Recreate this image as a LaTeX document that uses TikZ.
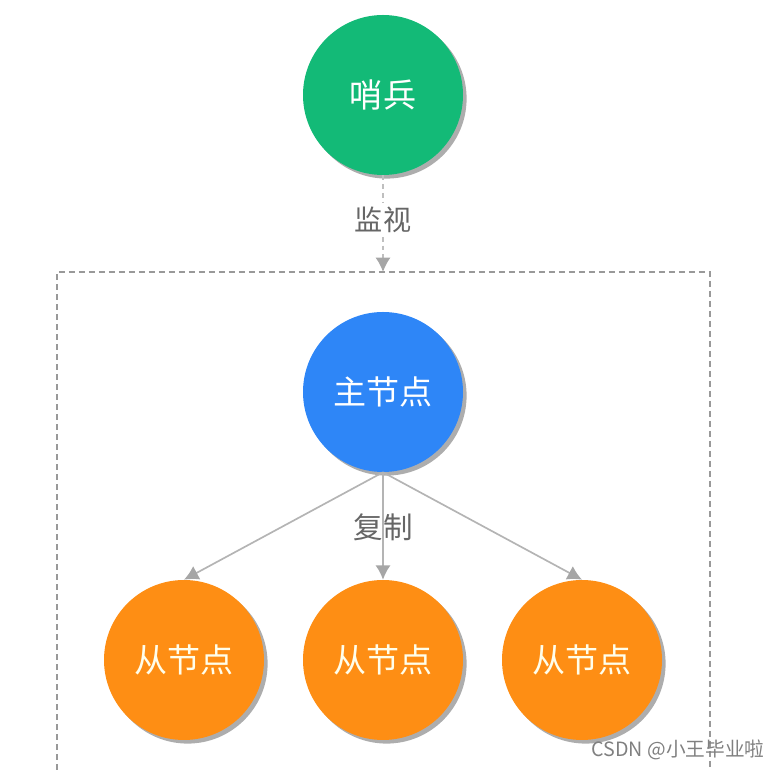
\documentclass[tikz,border=0pt]{standalone}
\usepackage{fontspec}
\newfontfamily\cjk{Noto Sans CJK SC}
\usetikzlibrary{arrows.meta,shadows}

\definecolor{shaogruen}{HTML}{13BA77}
\definecolor{zhublau}{HTML}{2E86F7}
\definecolor{congorange}{HTML}{FE8E14}
\definecolor{liniengrau}{HTML}{B4B4B4}
\definecolor{textgrau}{HTML}{666666}

\begin{document}
\begin{tikzpicture}[
    knoten/.style={circle, minimum size=4cm, inner sep=0pt, font=\cjk\fontsize{23.5}{25}\selectfont,
      drop shadow={shadow xshift=0.09cm, shadow yshift=-0.09cm, fill=black!40, opacity=0.8}},
    spitze/.style={-{Latex[length=0.36cm, width=0.38cm, color=black!35, fill=black!35]}},
    pfeil/.style={draw=liniengrau, line width=1.2pt, spitze},
    beschriftung/.style={text=textgrau, font=\cjk\fontsize{20}{22}\selectfont, inner sep=1pt}
  ]
  \useasboundingbox (0,0) rectangle (19.5,19.25);
  \clip (0,0) rectangle (19.5,19.25);

  % 虚线框
  \draw[black!40, line width=1.1pt, dash pattern=on 0.15cm off 0.1cm] (1.425,-1) rectangle (17.75,12.45);
  \coordinate (rahmenoben) at (9.575,12.45);

  % 哨兵
  \node[knoten, fill=shaogruen, text=white] (shaobing) at (9.575,16.875) {哨兵};
  \draw[black!25, line width=1.2pt, dash pattern=on 0.12cm off 0.1cm, spitze] (shaobing.south) -- (rahmenoben);
  \node[beschriftung, fill=white, inner ysep=3pt] (jianshi) at (9.575,13.75) {监视};

  % 主节点
  \node[knoten, fill=zhublau, text=white] (zhu) at (9.575,9.45) {主节点};

  % 从节点
  \node[knoten, fill=congorange, text=yellow!8] (cong1) at (4.6,2.75) {从节点};
  \node[knoten, fill=congorange, text=yellow!8] (cong2) at (9.575,2.75) {从节点};
  \node[knoten, fill=congorange, text=yellow!8] (cong3) at (14.55,2.75) {从节点};

  % 复制
  \draw[pfeil] (zhu.south) -- (cong1.north);
  \draw[pfeil] (zhu.south) -- (cong2.north);
  \draw[pfeil] (zhu.south) -- (cong3.north);
  \node[beschriftung, font=\cjk\fontsize{21}{23}\selectfont] (fuzhi) at (9.575,6.075) {复制};

  % 水印
  \node[text=black!50, font=\cjk\fontsize{14}{16}\selectfont, inner sep=0pt] (csdn) at (16.95,0.5) {CSDN @小王毕业啦};
\end{tikzpicture}
\end{document}
